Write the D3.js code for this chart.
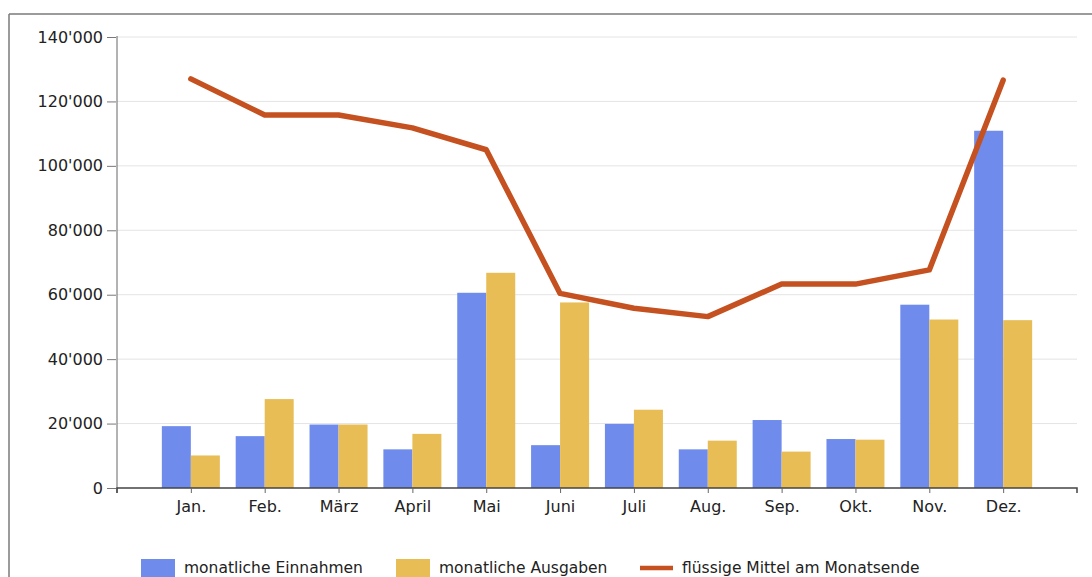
<!DOCTYPE html>
<html>
<head>
<meta charset="utf-8">
<script src="https://cdn.jsdelivr.net/npm/d3@7"></script>
<style>
  html, body { margin: 0; padding: 0; background: #fff; }
  svg { display: block; font-family: "DejaVu Sans", Verdana, sans-serif; }
</style>
</head>
<body>
<svg id="chart" width="1092" height="577"></svg>
<script>
const months = ["Jan.", "Feb.", "März", "April", "Mai", "Juni", "Juli", "Aug.", "Sep.", "Okt.", "Nov.", "Dez."];
const einnahmen = [19200, 16100, 19700, 12000, 60600, 13300, 19900, 12000, 21100, 15200, 56900, 110900];
const ausgaben  = [10100, 27600, 19700, 16800, 66800, 57600, 24300, 14700, 11300, 15000, 52300, 52100];
const fluessig  = [127000, 115800, 115800, 111800, 105000, 60400, 55800, 53200, 63300, 63300, 67700, 126600];
const yTicks = [0, 20000, 40000, 60000, 80000, 100000, 120000, 140000];
const seriesNames = ["monatliche Einnahmen", "monatliche Ausgaben", "flüssige Mittel am Monatsende"];
const colors = ["#6f8cec", "#e8bd55", "#c4511f"];

const svg = d3.select("#chart");
const pLeft = 117, pRight = 1077, pTop = 37, pBottom = 488;
const FONT = '"DejaVu Sans", Verdana, sans-serif';

// frame
svg.append("line").attr("x1", 9).attr("x2", 1092).attr("y1", 14).attr("y2", 14)
  .attr("stroke", "#7a7a7a").attr("stroke-width", 1.5);
svg.append("line").attr("x1", 9).attr("x2", 9).attr("y1", 14).attr("y2", 577)
  .attr("stroke", "#7a7a7a").attr("stroke-width", 1.5);

const x = d3.scalePoint().domain(months).range([pLeft, pRight]).padding(1);
const y = d3.scaleLinear().domain([0, 140000]).range([pBottom, pTop]);
const fmt = v => d3.format(",")(v).replace(/,/g, "'");

// grid
svg.append("g").selectAll("line").data(yTicks.slice(1)).join("line")
  .attr("x1", pLeft).attr("x2", pRight)
  .attr("y1", d => y(d)).attr("y2", d => y(d))
  .attr("stroke", "#e4e4e4").attr("stroke-width", 1);

// bars
const bw = 29;
svg.append("g").selectAll("rect").data(months).join("rect")
  .attr("x", d => x(d) - bw).attr("width", bw)
  .attr("y", (d, i) => y(einnahmen[i])).attr("height", (d, i) => pBottom - y(einnahmen[i]))
  .attr("fill", colors[0]);
svg.append("g").selectAll("rect").data(months).join("rect")
  .attr("x", d => x(d)).attr("width", bw)
  .attr("y", (d, i) => y(ausgaben[i])).attr("height", (d, i) => pBottom - y(ausgaben[i]))
  .attr("fill", colors[1]);

// y axis
const yAxis = svg.append("g").attr("transform", `translate(${pLeft},0)`)
  .call(d3.axisLeft(y).tickValues(yTicks).tickFormat(fmt).tickSize(10).tickPadding(4));
yAxis.attr("font-family", FONT).attr("font-size", 16);
yAxis.select(".domain").attr("stroke", "#666").attr("d", `M0,${pTop - 1}V${pBottom + 5}`);
yAxis.selectAll(".tick line").attr("stroke", "#777").attr("x1", -1);
yAxis.selectAll("text").attr("fill", "#222");

// x axis
const xAxis = svg.append("g").attr("transform", `translate(0,${pBottom})`)
  .call(d3.axisBottom(x).tickSize(5).tickPadding(8));
xAxis.attr("font-family", FONT).attr("font-size", 16);
xAxis.select(".domain").attr("stroke", "#444").attr("stroke-width", 1.5)
  .attr("d", `M${pLeft},5V0H${pRight}V5`);
xAxis.selectAll(".tick line").attr("stroke", "#666");
xAxis.selectAll("text").attr("fill", "#222");

// line
const line = d3.line().x((d, i) => x(months[i])).y(d => y(d));
svg.append("path").datum(fluessig).attr("d", line)
  .attr("fill", "none").attr("stroke", colors[2]).attr("stroke-width", 5.5)
  .attr("stroke-linejoin", "round").attr("stroke-linecap", "round");

// legend
const lg = svg.append("g");
const legendX = [141, 396, 640];
const legendW = [34, 34, 33];
seriesNames.forEach((name, i) => {
  if (i < 2) {
    lg.append("rect").attr("x", legendX[i]).attr("y", 559).attr("width", legendW[i]).attr("height", 18)
      .attr("fill", colors[i]);
  } else {
    lg.append("line").attr("x1", legendX[i]).attr("x2", legendX[i] + legendW[i])
      .attr("y1", 568).attr("y2", 568).attr("stroke", colors[i]).attr("stroke-width", 4.5);
  }
  lg.append("text").attr("x", legendX[i] + legendW[i] + 9).attr("y", 573)
    .attr("font-size", 15.5).attr("fill", "#222").text(name);
});
</script>
</body>
</html>
